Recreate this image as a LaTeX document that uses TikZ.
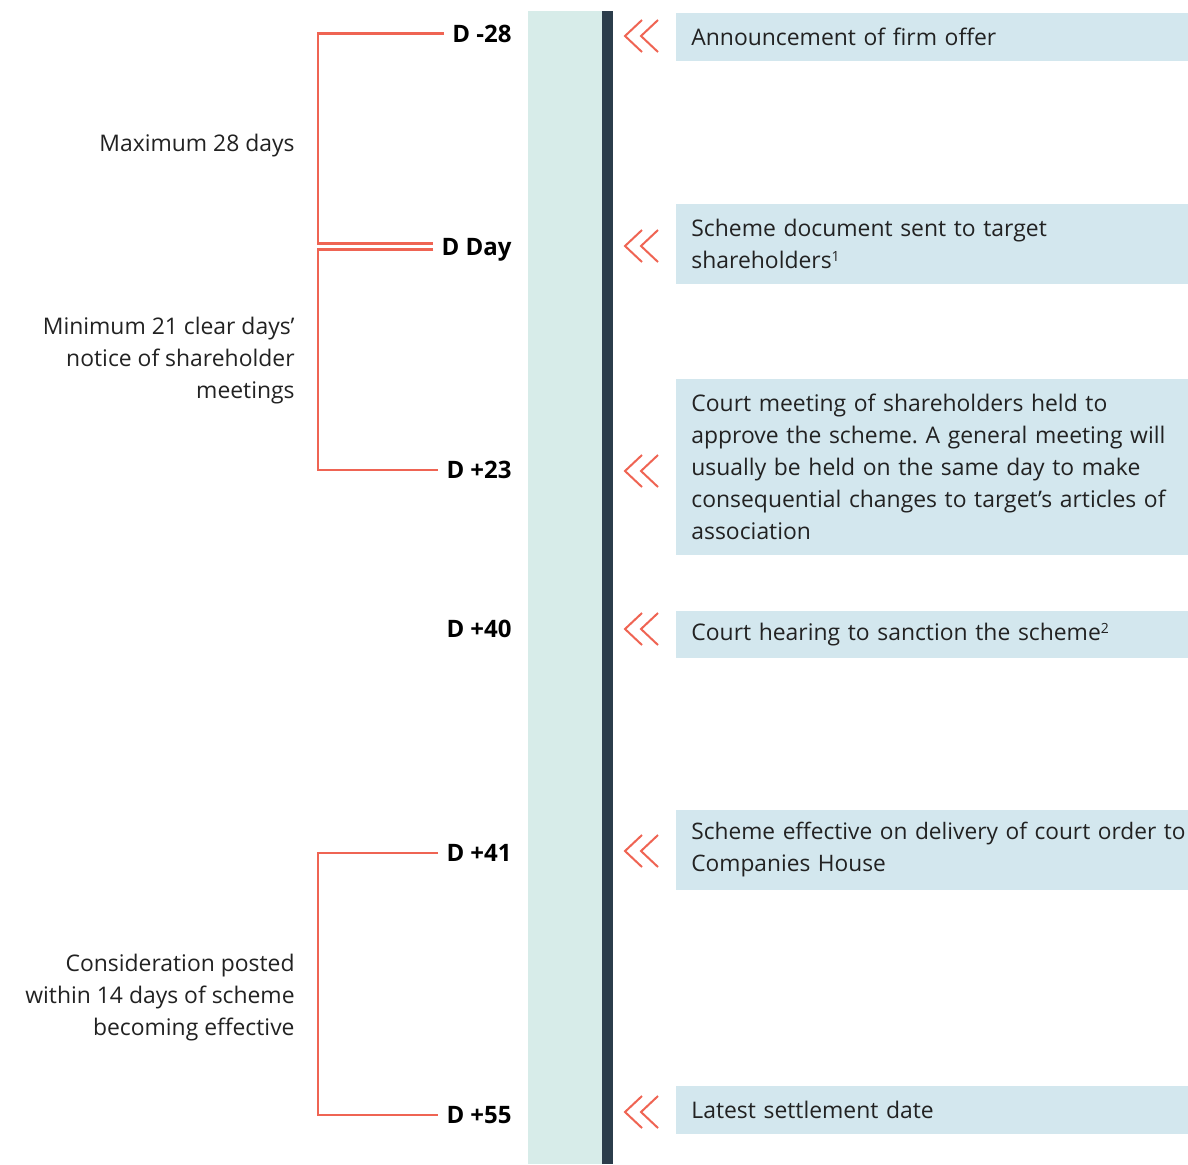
\documentclass[tikz,border=0pt]{standalone}
\usepackage{fontspec}
\setmainfont{Open Sans}
\usepackage{tikz}
\usetikzlibrary{calc}

\definecolor{coral}{HTML}{EF6453}
\definecolor{bandteal}{HTML}{D7ECE9}
\definecolor{spinedark}{HTML}{2B3D4B}
\definecolor{boxblue}{HTML}{D3E7EE}
\definecolor{txt}{HTML}{222222}

\newcommand{\bodyfont}{\fontsize{11.45}{16}\selectfont\frenchspacing}
\newcommand{\fnmark}[1]{\raisebox{0.6ex}{\fontsize{7}{7}\selectfont #1}}

\tikzset{
  evbox/.style={fill=boxblue, anchor=west, inner xsep=7.5pt, inner ysep=0pt,
    text width=241pt, align=left, text=txt, font=\bodyfont},
  daylab/.style={anchor=east, inner sep=4pt, text height=8.5pt, text depth=0pt,
    font=\fontsize{12}{16}\selectfont\bfseries},
  note/.style={anchor=east, inner sep=3pt, align=right, text=txt,
    font=\bodyfont},
  bracket/.style={draw=coral, line width=1.1pt},
  chev/.pic={
    \draw[coral, line width=1pt] (1,-16) -- (-16,0) -- (1,16);
    \draw[coral, line width=1pt] (17,-16) -- (0,0) -- (17,16);
  }
}

\begin{document}
\begin{tikzpicture}[x=0.5pt,y=-0.5pt]
\useasboundingbox (0,0) rectangle (1188,1164);

% timeline band and spine
\fill[bandteal] (528,11) rectangle (602,1164);
\fill[spinedark] (602,11) rectangle (613,1164);

% day labels
\node[daylab] (dm28) at (520,33.5) {D -28};
\node[daylab] (dday) at (520,246.5) {D Day};
\node[daylab] (dp23) at (520,470) {D +23};
\node[daylab] (dp40) at (520,628.5) {D +40};
\node[daylab] (dp41) at (520,853) {D +41};
\node[daylab] (dp55) at (520,1115) {D +55};

% event boxes
\node[evbox, minimum height=24pt] (ev1) at (676,36.5) {Announcement of firm offer};
\node[evbox, minimum height=40pt] (ev2) at (676,244) {Scheme document sent to target\\shareholders\fnmark{1}};
\node[evbox, minimum height=88pt] (ev3) at (676,467) {Court meeting of shareholders held to\\\mbox{approve the scheme. A general meeting will}\\usually be held on the same day to make\\\mbox{consequential changes to target’s articles of}\\association};
\node[evbox, minimum height=23.5pt] (ev4) at (676,634.5) {Court hearing to sanction the scheme\fnmark{2}};
\node[evbox, minimum height=40pt, font=\fontsize{11.35}{16}\selectfont] (ev5) at (676,850) {\mbox{Scheme effective on delivery of court order to}\\Companies House};
\node[evbox, minimum height=24pt] (ev6) at (676,1110) {Latest settlement date};

% chevrons
\foreach \y in {36,246,471,629,851,1112}
{
    \pic at (641,\y) {chev};
}

% brackets
\coordinate (spine) at (318,0);
\draw[bracket] (dm28.west) -- (dm28.west -| spine) |- ($(dday.west)+(0,-3)$);
\draw[bracket] ($(dday.west)+(0,3)$) -- ($(dday.west -| spine)+(0,3)$) |- (dp23.west);
\draw[bracket] (dp41.west) -- (dp41.west -| spine) |- (dp55.west);

% period notes
\node[note] (n1) at (301,146) {Maximum 28 days};
\node[note] (n2) at (301,361) {Minimum 21 clear days’\\notice of shareholder\\meetings};
\node[note] (n3) at (301,998) {Consideration posted\\within 14 days of scheme\\becoming effective};

\end{tikzpicture}
\end{document}
